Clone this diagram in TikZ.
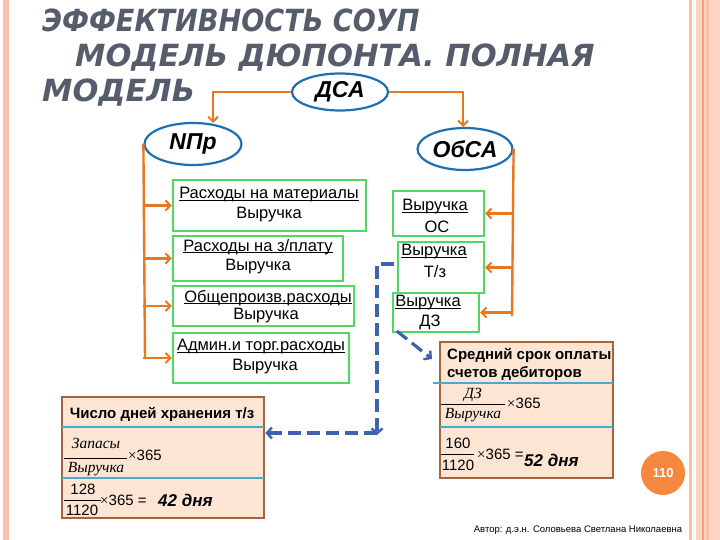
\documentclass[tikz,border=0pt]{standalone}
\usepackage{fontspec}
\setmainfont{Liberation Sans}
\newfontfamily\titlefont{DejaVu Sans}
\newfontfamily\serifit{Liberation Serif}
\usetikzlibrary{arrows.meta,shapes.geometric}
\definecolor{titlegray}{RGB}{85,92,107}
\definecolor{orline}{RGB}{232,119,34}
\definecolor{ellblue}{RGB}{31,111,181}
\definecolor{boxgreen}{RGB}{80,215,100}
\definecolor{dashblue}{RGB}{60,98,176}
\definecolor{peach}{RGB}{253,229,212}
\definecolor{brownb}{RGB}{165,100,60}
\definecolor{lineblue}{RGB}{75,172,198}
\definecolor{pgorange}{RGB}{245,135,62}
\definecolor{pinkA}{RGB}{251,190,170}
\definecolor{pinkB}{RGB}{252,212,196}
\definecolor{pinkC}{RGB}{246,160,120}
\newcommand\myul[1]{\setbox0\hbox{#1}\rlap{\rule[-2pt]{\wd0}{0.9pt}}\box0}
\begin{document}
\begin{tikzpicture}[x=1pt,y=-1pt,
  ttl/.style={anchor=base west,inner sep=0,text=titlegray,font=\titlefont\bfseries\itshape\fontsize{30.5}{31}\selectfont},
  ell/.style={ellipse,draw=ellblue,line width=2.2pt,fill=white,inner sep=0,font=\bfseries\itshape\fontsize{23}{23}\selectfont},
  orr/.style={draw=orline,line width=2.4pt,-{Straight Barb[length=5pt,width=10pt,line width=2pt]}},
  orl/.style={draw=orline,line width=2.4pt},
  gbox/.style={draw=boxgreen,line width=2.2pt,fill=white,inner sep=0},
  btxt/.style={inner sep=0,font=\fontsize{16.5}{16.5}\selectfont},
  bld/.style={draw=dashblue,line width=3.2pt,dash pattern=on 13pt off 6pt,-{Straight Barb[length=5pt,width=11pt,line width=2.4pt]}},
  fbox/.style={draw=brownb,line width=2.6pt,fill=peach,inner sep=0},
  hdr/.style={inner sep=0,font=\bfseries\fontsize{15}{18}\selectfont},
  frt/.style={inner sep=0,font=\serifit\itshape\fontsize{15.5}{15.5}\selectfont},
  num/.style={inner sep=0,font=\fontsize{15}{15}\selectfont},
  res/.style={inner sep=0,anchor=west,font=\bfseries\itshape\fontsize{17}{17}\selectfont},
  bar/.style={draw=black,line width=0.8pt},
  bl/.style={draw=lineblue,line width=1.3pt}]
\useasboundingbox (0,0) rectangle (720,540);
\fill[white] (0,0) rectangle (720,540);
% borders
\fill[pinkA] (3,0) rectangle (9,540);
\fill[pinkA] (689,0) rectangle (692,540);
\fill[pinkB] (696,0) rectangle (720,540);
\fill[pinkC] (702,0) rectangle (703.5,540);
\fill[pinkA] (706,0) rectangle (709,540);
% title
\node[ttl] (t1) at (42,32) {\scalebox{0.89}[1]{ЭФФЕКТИВНОСТЬ СОУП}};
\node[ttl] (t2) at (75,67) {МОДЕЛЬ ДЮПОНТА. ПОЛНАЯ};
\node[ttl] (t3) at (42,102) {МОДЕЛЬ};
% ellipses
\node[ell,minimum width=96pt,minimum height=37pt] (dsa) at (340,92) {ДСА};
\node[ell,minimum width=97pt,minimum height=42pt] (npr) at (193,144) {NПр};
\node[ell,minimum width=95pt,minimum height=42pt] (obca) at (465,149) {ОбСА};
\coordinate (nprtop) at (213,123);
\coordinate (obtop) at (463,127);
\draw[orr] (dsa.west) -| (nprtop);
\draw[orr] (dsa.east) -| (obtop);
% left boxes
\node[gbox,minimum width=193pt,minimum height=51pt] (b1) at (269.5,205.5) {};
\node[gbox,minimum width=170pt,minimum height=45pt] (b2) at (258,258.5) {};
\node[gbox,minimum width=181pt,minimum height=40pt] (b3) at (263.5,306) {};
\node[gbox,minimum width=176pt,minimum height=50pt] (b4) at (261,358) {};
\node[btxt] (b1a) at (269,195) {\myul{Расходы на материалы}};
\node[btxt] (b1b) at (269,215) {Выручка};
\node[btxt] (b2a) at (258,247) {\myul{Расходы на з/плату}};
\node[btxt] (b2b) at (258,267) {Выручка};
\node[btxt] (b3a) at (268,298) {\myul{Общепроизв.расходы}};
\node[btxt] (b3b) at (266,316) {Выручка};
\node[btxt] (b4a) at (261,347) {\myul{Админ.и торг.расходы}};
\node[btxt] (b4b) at (265,367) {Выручка};
\coordinate (busL) at (145,359);
\draw[orl] (npr.west) -- (busL);
\draw[orr] (b1.west -| npr.west) -- (b1.west);
\draw[orr] (b2.west -| npr.west) -- (b2.west);
\draw[orr] (b3.west -| npr.west) -- (b3.west);
\draw[orr] (b4.west -| npr.west) -- (b4.west);
% right boxes
\node[gbox,minimum width=91pt,minimum height=45pt] (oc) at (438.5,213.5) {};
\node[gbox,minimum width=86pt,minimum height=51pt] (tz) at (441,267.5) {};
\node[gbox,minimum width=86pt,minimum height=39pt] (dz) at (436,312.5) {};
\node[btxt] (oca) at (435,207) {\myul{Выручка}};
\node[btxt] (ocb) at (437,227) {ОС};
\node[btxt] (tza) at (434,252) {\myul{Выручка}};
\node[btxt] (tzb) at (435,272) {Т/з};
\node[btxt] (dza) at (428,303) {\myul{Выручка}};
\node[btxt] (dzb) at (430,322) {ДЗ};
\coordinate (busR) at (512,316);
\draw[orl] (obca.east) -- (busR);
\draw[orr] (oc.east -| busR) -- (oc.east);
\draw[orr] (tz.east -| busR) -- (tz.east);
\draw[orr] (dz.east -| busR) -- (dz.east);
% formula box A
\node[fbox,minimum width=202pt,minimum height=121pt] (fa) at (163,457.5) {};
\draw[bl] (62,427) -- (264,427);
\draw[bl] (62,478) -- (264,478);
\node[hdr] (fah) at (162,414) {Число дней хранения т/з};
\node[frt] (fan) at (96,443) {Запасы};
\draw[bar] (64,458) -- (127,458);
\node[frt] (fad) at (96,469) {Выручка};
\node[num,anchor=west] (fax) at (128,455) {{\serifit×}365};
\node[num] (fan2) at (83,489) {128};
\draw[bar] (64,500) -- (101,500);
\node[num] (fad2) at (82,510) {1120};
\node[num,anchor=west] (fax2) at (100,500) {{\serifit×}365 =};
\node[res] (far) at (158,500) {42 дня};
% formula box B
\node[fbox,minimum width=173pt,minimum height=136pt] (fb) at (526.5,410) {};
\draw[bl] (433,383) -- (613,383);
\draw[bl] (440,427) -- (613,427);
\node[hdr,anchor=north west,align=left] (fbh) at (447,348) {Средний срок оплаты\\счетов дебиторов};
\node[frt] (fbn) at (473,395) {ДЗ};
\draw[bar] (441,404) -- (505,404);
\node[frt] (fbd) at (473,415) {Выручка};
\node[num,anchor=west] (fbx) at (507,403) {{\serifit×}365};
\node[num] (fbn2) at (458,443) {160};
\draw[bar] (441,454) -- (474,454);
\node[num] (fbd2) at (458,465) {1120};
\node[num,anchor=west] (fbx2) at (477,454) {{\serifit×}365 =};
\node[res] (fbr) at (524,460) {52 дня};
% dashed blue connectors
\coordinate (bcorner) at (377,433);
\coordinate (diagend) at (432,359);
\draw[bld] ([xshift=-3pt,yshift=3.5pt]tz.west) -| ([yshift=-2pt]bcorner);
\draw[bld] (bcorner) -- (fa.east |- bcorner);
\draw[bld] ([xshift=5pt,yshift=2pt]dz.south west) -- (diagend);
% page number
\node[circle,fill=pgorange,minimum size=44pt,inner sep=0,text=white,font=\bfseries\fontsize{13}{13}\selectfont] (pg) at (663,473) {110};
\node[inner sep=0,font=\fontsize{9.5}{9.5}\selectfont] (auth) at (578,530) {Автор: д.э.н. Соловьева Светлана Николаевна};
\end{tikzpicture}
\end{document}
